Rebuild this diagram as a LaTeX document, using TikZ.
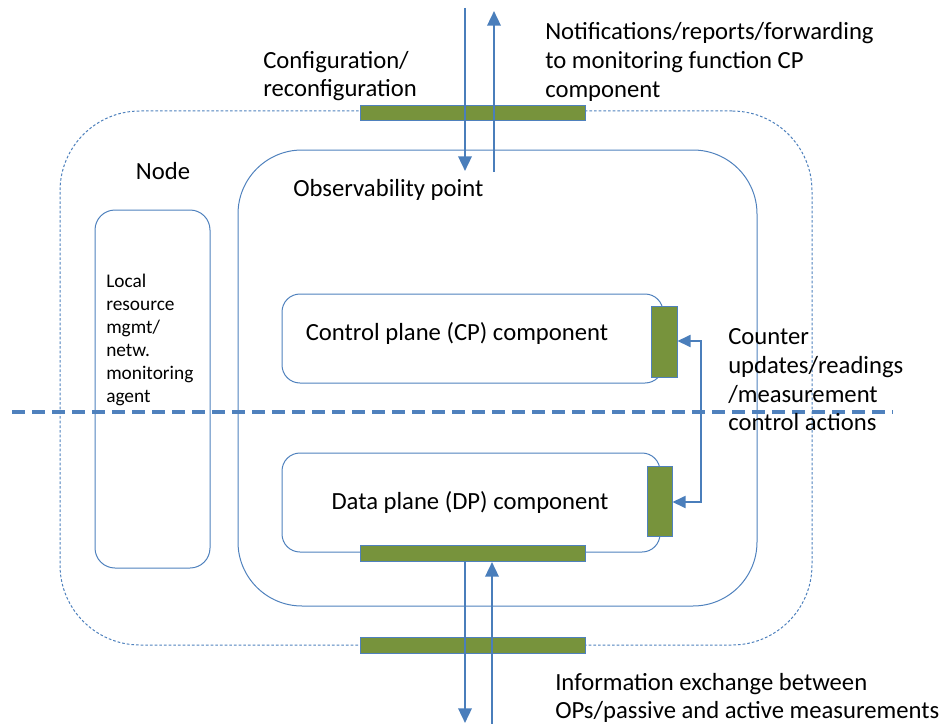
\documentclass[tikz,border=0pt]{standalone}
\usepackage{fontspec}
\setmainfont{Carlito}
\usetikzlibrary{arrows.meta}
\definecolor{lblue}{HTML}{4F81BD}
\definecolor{ablue}{HTML}{4A7EBB}
\definecolor{ogreen}{HTML}{77933C}
\tikzset{
  rbox/.style={draw=lblue, line width=0.75pt, inner sep=0pt},
  gbar/.style={draw=lblue, line width=0.6pt, fill=ogreen, inner sep=0pt},
  arr/.style={draw=ablue, line width=1.8pt, -{Triangle[length=11pt,width=10pt]}},
  dbl/.style={draw=ablue, line width=1.8pt, {Triangle[length=10pt,width=9pt]}-{Triangle[length=10pt,width=9pt]}},
  txt/.style={font=\fontsize{18.5}{21.5}\selectfont, inner sep=0pt, align=left},
  stxt/.style={font=\fontsize{14.5}{17.25}\selectfont, inner sep=0pt, align=left},
}
\begin{document}
\begin{tikzpicture}[x=0.75pt,y=-0.75pt]
\useasboundingbox (0,0) rectangle (946,724);
% outer dashed node boundary
\node[rbox, dash pattern=on 2pt off 1.5pt, rounded corners=60pt, minimum width=564pt, minimum height=400.5pt] (outer) at (436,378) {};
% inner observability point
\node[rbox, rounded corners=48pt, minimum width=389.25pt, minimum height=342pt] (inner) at (497.5,378) {};
% local resource box
\node[rbox, rounded corners=15pt, minimum width=86.25pt, minimum height=268.5pt] (local) at (152.5,389) {};
% CP and DP boxes
\node[rbox, rounded corners=13.5pt, minimum width=285.75pt, minimum height=66.75pt] (cp) at (472.5,338.5) {};
\node[rbox, rounded corners=13.5pt, minimum width=283.5pt, minimum height=74.25pt] (dp) at (471,502.5) {};
% horizontal dashed separator
\coordinate (hl) at (12,412);
\coordinate (hr) at (893,412);
\draw[draw=lblue, line width=2.4pt, dash pattern=on 10pt off 5pt] (hl) -- (hr);
% green bars
\node[gbar, minimum width=168.75pt, minimum height=11.25pt] (topbar) at (472.5,112.5) {};
\node[gbar, minimum width=168.75pt, minimum height=12pt] (dpbar) at (472.5,553) {};
\node[gbar, minimum width=168.75pt, minimum height=12pt] (botbar) at (472.5,645) {};
\node[gbar, minimum width=19.5pt, minimum height=53.25pt] (cpside) at (664,341.5) {};
\node[gbar, minimum width=18.75pt, minimum height=52.5pt] (dpside) at (659.5,501) {};
% top arrows
\coordinate (tdS) at (465,8);
\coordinate (tdE) at (465,171);
\coordinate (tuS) at (494,172);
\coordinate (tuE) at (494,11);
\draw[arr] (tdS) -- (tdE);
\draw[arr] (tuS) -- (tuE);
% bottom arrows
\coordinate (bdS) at (465,561);
\coordinate (bdE) at (465,723);
\coordinate (buS) at (492,726);
\coordinate (buE) at (492,562);
\draw[arr] (bdS) -- (bdE);
\draw[arr] (buS) -- (buE);
% counter arrow between CP and DP bars
\draw[dbl] (cpside.east |- 0,341) -- (701,341) -- (701,502) -- (dpside.east |- 0,502);
% texts
\node[txt, anchor=west] (conf) at (263,76) {Configuration/\\reconfiguration};
\node[txt, anchor=west] (notif) at (545,62) {Notifications/reports/forwarding\\to monitoring function CP\\component};
\node[txt] (nodelbl) at (163,171) {Node};
\node[txt, anchor=west] (obs) at (293,190) {Observability point};
\node[stxt, anchor=west] (loctxt) at (106,340) {Local\\resource\\mgmt/\\netw.\\monitoring\\agent};
\node[txt] (cptxt) at (457,333) {Control plane (CP) component};
\node[txt] (dptxt) at (470,502) {Data plane (DP) component};
\node[txt, anchor=west] (counter) at (728,380) {Counter\\updates/readings\\/measurement\\control actions};
\node[txt, anchor=west] (info) at (555,698) {Information exchange between\\OPs/passive and active measurements};
\end{tikzpicture}
\end{document}
